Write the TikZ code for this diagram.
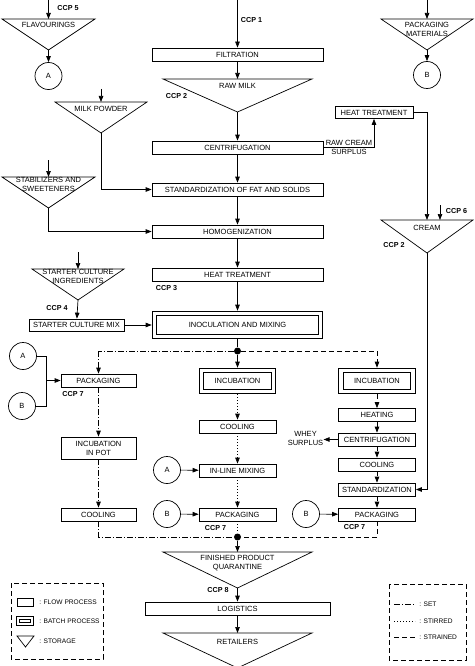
\documentclass[tikz,border=0pt]{standalone}
\usepackage{fontspec}
\setmainfont{Liberation Sans}
\usetikzlibrary{arrows.meta}
\begin{document}
\begin{tikzpicture}[x=1pt,y=-1pt,
  line width=0.7pt,
  every node/.style={font=\fontsize{7.5}{9}\selectfont, inner sep=0pt, align=center},
  proc/.style={draw, rectangle, minimum height=13pt, inner sep=0pt},
  batch/.style={draw, rectangle, double, double distance=3.4pt, line width=1.1pt, outer sep=2.8pt, inner sep=0pt},
  ccp/.style={font=\fontsize{7.2}{8}\selectfont\bfseries},
  circ/.style={draw, circle, minimum size=27pt, inner sep=0pt},
  arr/.style={-{Triangle[length=6pt,width=4.5pt]}},
  setl/.style={dash pattern=on 6pt off 2pt on 1pt off 2pt},
  stirl/.style={dash pattern=on 1pt off 2pt},
  strainl/.style={dash pattern=on 5pt off 3pt},
  jdot/.style={circle, fill, minimum size=7pt, inner sep=0pt},
  legtxt/.style={font=\fontsize{6.6}{8}\selectfont, anchor=west},
]
\useasboundingbox (0,0) rectangle (474,666);

% ---------- main column boxes ----------
\node[proc, minimum width=171pt] (filt) at (237.5,54.5) {FILTRATION};
\node[proc, minimum width=171pt] (centr) at (237.5,147.5) {CENTRIFUGATION};
\node[proc, minimum width=171pt] (stand) at (237.5,189.5) {STANDARDIZATION OF FAT AND SOLIDS};
\node[proc, minimum width=171pt] (homog) at (237.5,231.5) {HOMOGENIZATION};
\node[proc, minimum width=171pt] (heat) at (237.5,274.5) {HEAT TREATMENT};
\node[batch, minimum width=166pt, minimum height=23pt] (inoc) at (237.5,325) {INOCULATION AND MIXING};
\node[proc, minimum width=95pt, minimum height=12pt] (smix) at (76.5,325) {STARTER CULTURE MIX};
\node[proc, minimum width=78pt, minimum height=12pt] (htr) at (374,112.5) {HEAT TREATMENT};

% ---------- set column ----------
\node[proc, minimum width=75pt] (pack1) at (98.5,380.5) {PACKAGING};
\node[proc, minimum width=75pt, minimum height=22pt] (incpot) at (98.5,448) {INCUBATION\\IN POT};
\node[proc, minimum width=75pt] (cool1) at (98.5,514.5) {COOLING};

% ---------- stirred column ----------
\node[batch, minimum width=72pt, minimum height=21pt] (inc2) at (237.5,381) {INCUBATION};
\node[proc, minimum width=77pt] (cool2) at (237.5,426.5) {COOLING};
\node[proc, minimum width=77pt] (inline) at (237.5,470.5) {IN-LINE MIXING};
\node[proc, minimum width=77pt] (pack2) at (237.5,514.5) {PACKAGING};

% ---------- strained column ----------
\node[batch, minimum width=72pt, minimum height=21pt] (inc3) at (377,381) {INCUBATION};
\node[proc, minimum width=77pt] (heating) at (377,415) {HEATING};
\node[proc, minimum width=77pt] (centr3) at (377,439.5) {CENTRIFUGATION};
\node[proc, minimum width=77pt] (cool3) at (377,464.5) {COOLING};
\node[proc, minimum width=77pt] (stand3) at (377,489.5) {STANDARDIZATION};
\node[proc, minimum width=77pt] (pack3) at (377,514.5) {PACKAGING};

\node[proc, minimum width=185pt] (logi) at (237.5,608.5) {LOGISTICS};

% ---------- junctions ----------
\node[jdot] (dot1) at (237.5,351) {};
\node[jdot] (dot2) at (237.5,537) {};

% ---------- circles ----------
\node[circ] (A1) at (48.5,76) {A};
\node[circ] (B1) at (427,75) {B};
\node[circ] (A2) at (23,356) {A};
\node[circ] (B2) at (22,406) {B};
\node[circ] (A3) at (167,470) {A};
\node[circ] (B3) at (167,514) {B};
\node[circ] (B4) at (306,514) {B};

% ---------- storage triangles ----------
\draw (2,19) -- (95,19) -- (48.5,50) coordinate (flav-apex) -- cycle;
\coordinate (flav-top) at (48.5,19);
\node (flav) at (48.5,24.5) {FLAVOURINGS};

\draw (381,19) -- (473,19) -- (427,50) coordinate (pm-apex) -- cycle;
\coordinate (pm-top) at (427,19);
\node (pm) at (427,29) {PACKAGING\\MATERIALS};

\draw (55,102) -- (147,102) -- (101,133) coordinate (mp-apex) -- cycle;
\coordinate (mp-top) at (101,102);
\node (mp) at (101,109.3) {MILK POWDER};

\draw (2,177) -- (95,177) -- (48.5,208) coordinate (st-apex) -- cycle;
\coordinate (st-top) at (48.5,177);
\node (st) at (48.5,184.6) {STABILIZERS AND\\SWEETENERS};

\draw (32,269) -- (124,269) -- (78,300) coordinate (sc-apex) -- cycle;
\coordinate (sc-top) at (78,269);
\node (sc) at (78,276.8) {STARTER CULTURE\\INGREDIENTS};

\draw (163,79) -- (312,79) -- (237.5,112) coordinate (rm-apex) -- cycle;
\coordinate (rm-top) at (237.5,79);
\node (rm) at (237.5,86) {RAW MILK};

\draw (381,220) -- (473,220) -- (427,253) coordinate (cr-apex) -- cycle;
\coordinate (cr-top) at (427,220);
\node (cr) at (427,228.3) {CREAM};

\draw (163,552) -- (312,552) -- (237.5,588) coordinate (fp-apex) -- cycle;
\coordinate (fp-top) at (237.5,552);
\node (fp) at (237.5,563.2) {FINISHED PRODUCT\\QUARANTINE};

\draw (163,633) -- (312,633) -- (237.5,668) coordinate (rt-apex) -- cycle;
\coordinate (rt-top) at (237.5,633);
\node (rt) at (237.5,641.5) {RETAILERS};

% ---------- free ends ----------
\coordinate (in1) at (237.5,0);
\coordinate (in5) at (48.5,0);
\coordinate (inpm) at (427,0);
\coordinate (inmp) at (101,89);
\coordinate (inst) at (48.5,160);
\coordinate (insc) at (78,252);
\coordinate (in6) at (440,205);
\coordinate (in6end) at (440,220);
\coordinate (bus) at (46,380.5);
\coordinate (rcx) at (374,147.5);
\coordinate (crx) at (427,112.5);

% ---------- main flow connectors ----------
\draw[arr] (in1) -- (filt);
\draw[arr] (filt) -- (rm-top);
\draw[arr] (rm-apex) -- (centr);
\draw[arr] (centr) -- (stand);
\draw[arr] (stand) -- (homog);
\draw[arr] (homog) -- (heat);
\draw[arr] (heat) -- (inoc);
\draw (inoc) -- (dot1);
\draw[arr] (dot1) -- (inc2);
\draw[setl] (dot1) -- (dot1 -| pack1);
\draw[setl, arr] (dot1 -| pack1) -- (pack1);
\draw[strainl] (dot1) -- (dot1 -| inc3);
\draw[strainl, arr] (dot1 -| inc3) -- (inc3);

% set
\draw[setl, arr] (pack1) -- (incpot);
\draw[setl, arr] (incpot) -- (cool1);
\draw[setl] (cool1) -- (cool1 |- dot2) -- (dot2);
% stirred
\draw[stirl, arr] (inc2) -- (cool2);
\draw[stirl, arr] (cool2) -- (inline);
\draw[stirl, arr] (inline) -- (pack2);
\draw[stirl] (pack2) -- (dot2);
% strained
\draw[strainl, arr] (inc3) -- (heating);
\draw[strainl, arr] (heating) -- (centr3);
\draw[strainl, arr] (centr3) -- (cool3);
\draw[strainl, arr] (cool3) -- (stand3);
\draw[strainl, arr] (stand3) -- (pack3);
\draw[strainl] (pack3) -- (pack3 |- dot2) -- (dot2);

\draw[arr] (dot2) -- (fp-top);
\draw[arr] (fp-apex) -- (logi);
\draw[arr] (logi) -- (rt-top);

% ---------- side inputs ----------
\draw[arr] (in5) -- (flav-top);
\draw[arr] (flav-apex) -- (A1);
\draw[arr] (inpm) -- (pm-top);
\draw[arr] (pm-apex) -- (B1);
\draw[arr] (inmp) -- (mp-top);
\draw[arr] (mp-apex) -- (mp-apex |- stand) -- (stand);
\draw[arr] (inst) -- (st-top);
\draw[arr] (st-apex) -- (st-apex |- homog) -- (homog);
\draw[arr] (insc) -- (sc-top);
\draw[arr] (sc-apex) -- (smix);
\draw[arr] (smix) -- (inoc);

% cream branch
\draw[arr] (centr.east) -- (rcx) -- (rcx |- htr.south);
\draw[arr] (htr.east) -- (crx) -- (cr-top);
\draw[arr] (in6) -- (in6end);
\draw[arr] (cr-apex) -- (cr-apex |- stand3) -- (stand3.east);

% circles to boxes
\draw (A2.east) -- (A2 -| bus) -- (B2 -| bus) -- (B2.east);
\draw[arr] (bus) -- (pack1);
\draw[arr] (A3) -- (inline);
\draw[arr] (B3) -- (pack2);
\draw[arr] (B4) -- (pack3);

% whey
\node (whey) at (305.5,438) {WHEY\\SURPLUS};
\draw[arr] (centr3.west) -- (centr3.west -| whey.east);

% raw cream labels
\node (rc1) at (349,142.7) {RAW CREAM};
\node (rc2) at (349,152.2) {SURPLUS};

% ---------- CCP labels ----------
\node[ccp] (c1) at (251.5,20) {CCP 1};
\node[ccp] (c5) at (68,8) {CCP 5};
\node[ccp] (c2a) at (176.5,96) {CCP 2};
\node[ccp] (c6) at (456.5,211) {CCP 6};
\node[ccp] (c2b) at (394,245) {CCP 2};
\node[ccp] (c3) at (166.5,288) {CCP 3};
\node[ccp] (c4) at (57,308) {CCP 4};
\node[ccp] (c7a) at (73,394) {CCP 7};
\node[ccp] (c7b) at (215.5,528) {CCP 7};
\node[ccp] (c7c) at (354.5,527) {CCP 7};
\node[ccp] (c8) at (218,590) {CCP 8};

% ---------- legends ----------
\draw[dash pattern=on 5pt off 3pt, line width=0.6pt] (11,583) rectangle (103,659);
\node[proc, minimum width=16pt, minimum height=8pt] (lg1) at (25,602) {};
\node[legtxt] (lg1t) at (39,602) {: FLOW PROCESS};
\node[draw, rectangle, double, double distance=1.6pt, line width=0.9pt, minimum width=14pt, minimum height=6pt] (lg2) at (25,621) {};
\node[legtxt] (lg2t) at (39,621) {: BATCH PROCESS};
\draw (17,636) -- (34,636) -- (25.5,647) -- cycle;
\node[legtxt] (lg3t) at (39,641) {: STORAGE};

\draw[dash pattern=on 5pt off 3pt, line width=0.6pt] (389,584) rectangle (466,660);
\coordinate (l1a) at (394,604); \coordinate (l1b) at (415,604);
\coordinate (l2a) at (394,621); \coordinate (l2b) at (415,621);
\coordinate (l3a) at (394,637); \coordinate (l3b) at (415,637);
\draw[setl] (l1a) -- (l1b);
\draw[stirl] (l2a) -- (l2b);
\draw[strainl] (l3a) -- (l3b);
\node[legtxt] (lr1) at (419,604) {: SET};
\node[legtxt] (lr2) at (419,621) {: STIRRED};
\node[legtxt] (lr3) at (419,637) {: STRAINED};
\end{tikzpicture}
\end{document}
